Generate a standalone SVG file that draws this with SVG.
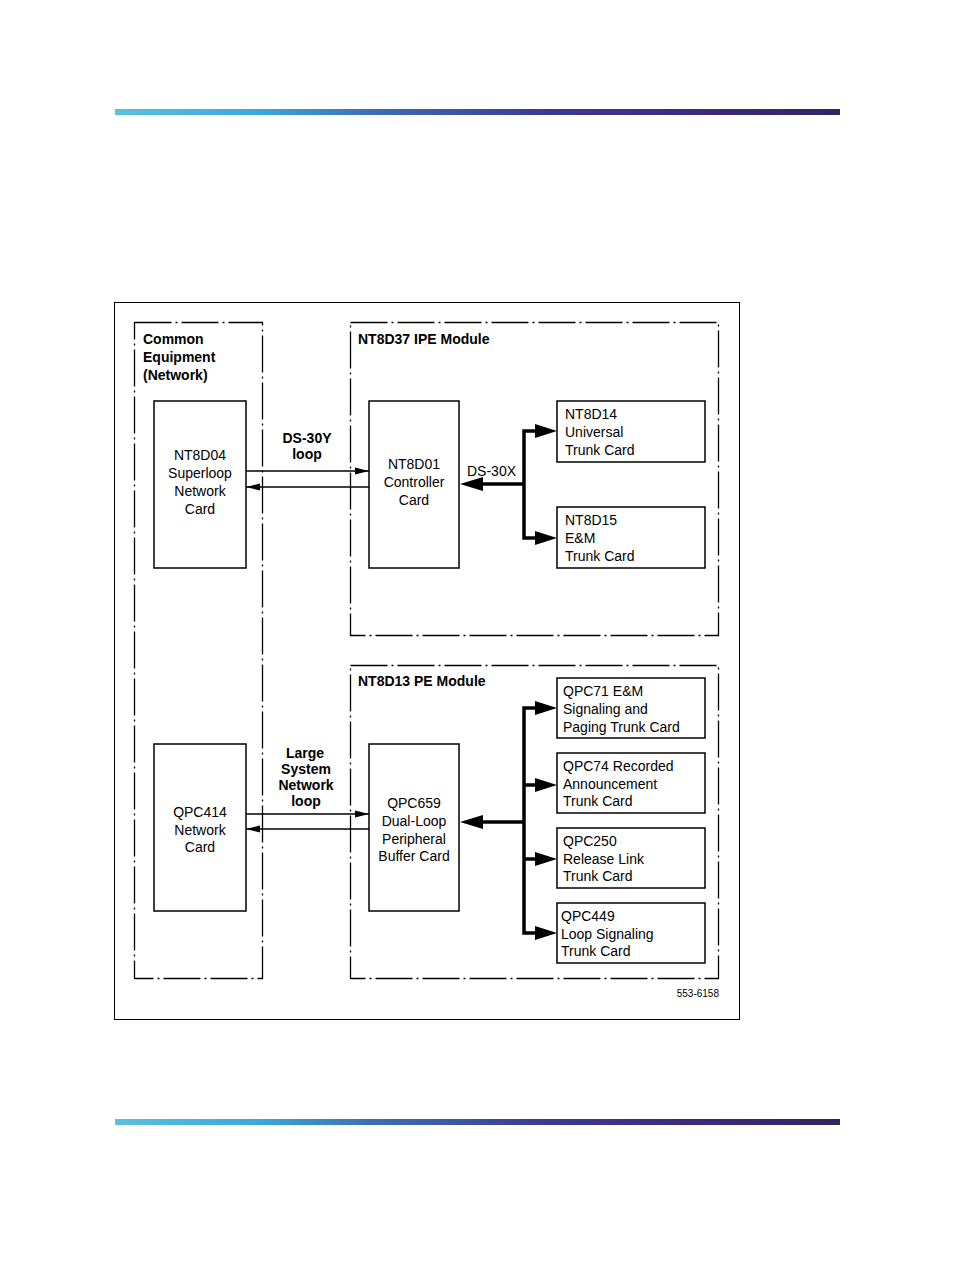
<svg xmlns="http://www.w3.org/2000/svg" width="954" height="1272" viewBox="0 0 954 1272">
<defs>
<linearGradient id="bar" x1="0" y1="0" x2="1" y2="0">
<stop offset="0" stop-color="#5bc0e0"/>
<stop offset="0.2" stop-color="#3aa8dc"/>
<stop offset="0.35" stop-color="#3e6fb0"/>
<stop offset="0.6" stop-color="#3b3a8e"/>
<stop offset="0.8" stop-color="#3d2a7c"/>
<stop offset="1" stop-color="#33245e"/>
</linearGradient>
<marker id="ah" viewBox="0 0 14 8" refX="14" refY="4" markerWidth="14" markerHeight="8" markerUnits="userSpaceOnUse" orient="auto"><path d="M0,0.5 L14,4 L0,7.5 Z" fill="#000"/></marker>
</defs>
<style>
.dash{fill:none;stroke:#000;stroke-width:1.3;stroke-dasharray:37 4 2 4}
.box{fill:#fff;stroke:#000;stroke-width:1.5}
.t{font-family:"Liberation Sans",Arial,sans-serif;font-size:14px;fill:#000}
.b{font-family:"Liberation Sans",Arial,sans-serif;font-size:14px;font-weight:bold;fill:#000}
.thin{fill:none;stroke:#000;stroke-width:1.3}
.thick{fill:none;stroke:#000;stroke-width:3.5}
.head{fill:#000}
</style>
<rect x="115" y="109" width="725" height="6" fill="url(#bar)"/>
<rect x="115" y="1119" width="725" height="6" fill="url(#bar)"/>
<rect x="114.5" y="302.5" width="625" height="717" fill="none" stroke="#000" stroke-width="1"/>

<g id="common"><rect class="dash" x="134.5" y="322.5" width="128" height="656"/>
<text class="b" x="143" y="344">Common</text><text class="b" x="143" y="362">Equipment</text><text class="b" x="143" y="380">(Network)</text></g>
<g id="ipe"><rect class="dash" x="350.5" y="322.5" width="368" height="313"/>
<text class="b" x="358" y="344">NT8D37 IPE Module</text></g>
<g id="pe"><rect class="dash" x="350.5" y="665.5" width="368" height="313"/>
<text class="b" x="358" y="686">NT8D13 PE Module</text></g>

<g id="nt8d04"><rect class="box" x="154" y="401" width="92" height="167"/>
<text class="t" text-anchor="middle" x="200" y="460">NT8D04</text><text class="t" text-anchor="middle" x="200" y="478">Superloop</text><text class="t" text-anchor="middle" x="200" y="496">Network</text><text class="t" text-anchor="middle" x="200" y="514">Card</text></g>
<g id="nt8d01"><rect class="box" x="369" y="401" width="90" height="167"/>
<text class="t" text-anchor="middle" x="414" y="469">NT8D01</text><text class="t" text-anchor="middle" x="414" y="487">Controller</text><text class="t" text-anchor="middle" x="414" y="505">Card</text></g>
<g id="nt8d14"><rect class="box" x="557" y="401" width="148" height="61"/>
<text class="t" x="565" y="419">NT8D14</text><text class="t" x="565" y="437">Universal</text><text class="t" x="565" y="455">Trunk Card</text></g>
<g id="nt8d15"><rect class="box" x="557" y="507" width="148" height="61"/>
<text class="t" x="565" y="525">NT8D15</text><text class="t" x="565" y="543">E&amp;M</text><text class="t" x="565" y="561">Trunk Card</text></g>

<g id="qpc414"><rect class="box" x="154" y="744" width="92" height="167"/>
<text class="t" text-anchor="middle" x="200" y="817">QPC414</text><text class="t" text-anchor="middle" x="200" y="835">Network</text><text class="t" text-anchor="middle" x="200" y="852">Card</text></g>
<g id="qpc659"><rect class="box" x="369" y="744" width="90" height="167"/>
<text class="t" text-anchor="middle" x="414" y="808">QPC659</text><text class="t" text-anchor="middle" x="414" y="826">Dual-Loop</text><text class="t" text-anchor="middle" x="414" y="844">Peripheral</text><text class="t" text-anchor="middle" x="414" y="861">Buffer Card</text></g>
<g id="qpc71"><rect class="box" x="557" y="678" width="148" height="60"/>
<text class="t" x="563" y="696">QPC71 E&amp;M</text><text class="t" x="563" y="714">Signaling and</text><text class="t" x="563" y="732">Paging Trunk Card</text></g>
<g id="qpc74"><rect class="box" x="557" y="753" width="148" height="60"/>
<text class="t" x="563" y="771">QPC74 Recorded</text><text class="t" x="563" y="789">Announcement</text><text class="t" x="563" y="806">Trunk Card</text></g>
<g id="qpc250"><rect class="box" x="557" y="828" width="148" height="60"/>
<text class="t" x="563" y="846">QPC250</text><text class="t" x="563" y="864">Release Link</text><text class="t" x="563" y="881">Trunk Card</text></g>
<g id="qpc449"><rect class="box" x="557" y="903" width="148" height="60"/>
<text class="t" x="561" y="921">QPC449</text><text class="t" x="561" y="939">Loop Signaling</text><text class="t" x="561" y="956">Trunk Card</text></g>

<g id="connectors">
<line class="thin" x1="246" y1="471" x2="369" y2="471" marker-end="url(#ah)"/>
<line class="thin" x1="369" y1="487" x2="246" y2="487" marker-end="url(#ah)"/>
<line class="thin" x1="246" y1="814" x2="369" y2="814" marker-end="url(#ah)"/>
<line class="thin" x1="369" y1="829" x2="246" y2="829" marker-end="url(#ah)"/>
<text class="b" text-anchor="middle" x="307" y="443">DS-30Y</text><text class="b" text-anchor="middle" x="307" y="459">loop</text>
<text class="b" text-anchor="middle" x="305" y="758">Large</text><text class="b" text-anchor="middle" x="306" y="774">System</text><text class="b" text-anchor="middle" x="306" y="790">Network</text><text class="b" text-anchor="middle" x="306" y="806">loop</text>

<path class="thick" d="M480,484 H524"/>
<polygon class="head" points="460,484 483,477 483,491"/>
<path class="thick" d="M538,431 H524 V538 H538"/>
<polygon class="head" points="557,431 535,424 535,438"/>
<polygon class="head" points="557,538 535,531 535,545"/>
<text class="t" x="467" y="476">DS-30X</text>

<path class="thick" d="M480,822 H524"/>
<polygon class="head" points="460,822 483,815 483,829"/>
<path class="thick" d="M538,708 H524 V933 H538 M524,785 H538 M524,859 H538"/>
<polygon class="head" points="557,708 535,701 535,715"/>
<polygon class="head" points="557,785 535,778 535,792"/>
<polygon class="head" points="557,859 535,852 535,866"/>
<polygon class="head" points="557,933 535,926 535,940"/>
</g>
<text x="719" y="997" text-anchor="end" style="font-family:'Liberation Sans',Arial,sans-serif;font-size:10px">553-6158</text>
</svg>
